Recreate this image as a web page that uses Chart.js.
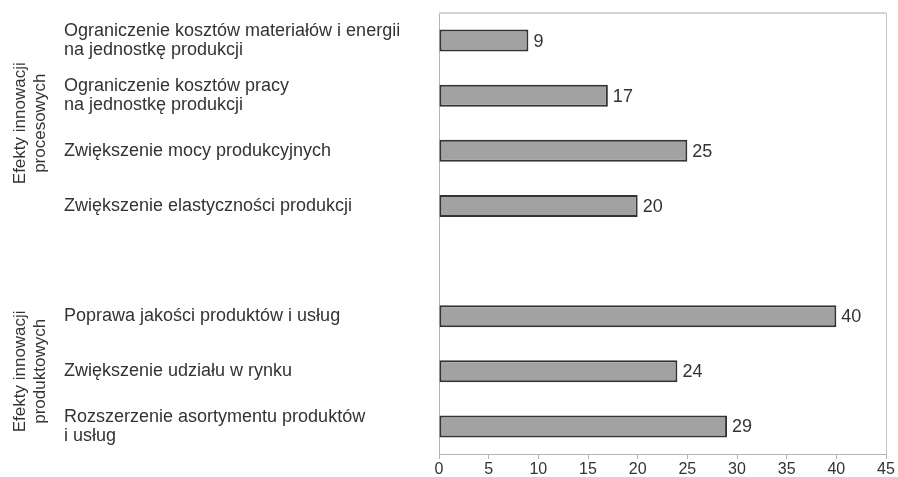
<!DOCTYPE html>
<html>
<head>
<meta charset="utf-8">
<script src="https://cdn.jsdelivr.net/npm/chart.js@4/dist/chart.umd.min.js"></script>
<style>
  body { margin: 0; background: #fff; }
  canvas { display: block; }
</style>
</head>
<body>
<canvas id="myChart" width="898" height="477"></canvas>
<script>
// Chart data
const categories = [
  ['Ograniczenie kosztów materiałów i energii', 'na jednostkę produkcji'],
  ['Ograniczenie kosztów pracy', 'na jednostkę produkcji'],
  'Zwiększenie mocy produkcyjnych',
  'Zwiększenie elastyczności produkcji',
  '',
  'Poprawa jakości produktów i usług',
  'Zwiększenie udziału w rynku',
  ['Rozszerzenie asortymentu produktów', 'i usług']
];
const values = [9, 17, 25, 20, null, 40, 24, 29];
const groupLabels = [['Efekty innowacji', 'procesowych'], ['Efekty innowacji', 'produktowych']];
const groupRanges = [[0, 3], [5, 7]];
const xMin = 0, xMax = 45, xStep = 5;

const FONT = '"Liberation Sans", Arial, sans-serif';

// frame, value labels and rotated group titles
const extras = {
  id: 'extras',
  afterDraw(chart) {
    const c = chart.ctx;
    const a = chart.chartArea;
    c.save();
    c.strokeStyle = '#d4d4d4';
    c.lineWidth = 2;
    c.beginPath();
    c.moveTo(a.left, a.top);
    c.lineTo(a.right, a.top);
    c.stroke();
    c.strokeStyle = '#c4c4c4';
    c.lineWidth = 1;
    c.beginPath();
    c.moveTo(a.right + 0.5, a.top);
    c.lineTo(a.right + 0.5, a.bottom);
    c.stroke();

    // values
    c.font = '18px ' + FONT;
    c.fillStyle = '#333';
    c.textBaseline = 'middle';
    c.textAlign = 'left';
    chart.getDatasetMeta(0).data.forEach((bar, i) => {
      if (values[i] == null) return;
      c.fillText(values[i], bar.x + 5, bar.y + 1);
    });

    // group titles
    const y = chart.scales.y;
    c.font = '17px ' + FONT;
    c.textAlign = 'center';
    groupLabels.forEach((lines, g) => {
      const cy = (y.getPixelForValue(groupRanges[g][0]) + y.getPixelForValue(groupRanges[g][1])) / 2;
      c.save();
      c.translate(20, cy);
      c.rotate(-Math.PI / 2);
      c.fillText(lines[0], 0, 0);
      c.fillText(lines[1], 0, 20);
      c.restore();
    });
    c.restore();
  }
};

const ctx = document.getElementById('myChart').getContext('2d');
const myChart = new Chart(ctx, {
  type: 'bar',
  data: {
    labels: categories,
    datasets: [{
      data: values,
      backgroundColor: '#a2a2a2',
      borderColor: '#333333',
      borderWidth: 2,
      borderSkipped: false,
      barPercentage: 0.4,
      categoryPercentage: 1
    }]
  },
  options: {
    indexAxis: 'y',
    responsive: false,
    animation: false,
    layout: { padding: { left: 64, right: 12, top: 13, bottom: 0 } },
    plugins: {
      legend: { display: false },
      tooltip: { enabled: false }
    },
    scales: {
      x: {
        min: xMin,
        max: xMax,
        afterFit(scale) { scale.height = 23; },
        ticks: {
          stepSize: xStep,
          padding: 1,
          color: '#333',
          font: { family: FONT, size: 16 }
        },
        grid: { drawOnChartArea: false, drawTicks: true, tickLength: 5, color: '#b4b4b4' },
        border: { display: true, color: '#b4b4b4' }
      },
      y: {
        afterFit(scale) {
          scale.width = 375;
          scale.paddingTop = 0;
          scale.paddingBottom = 0;
        },
        ticks: {
          crossAlign: 'far',
          color: '#333',
          font: { family: FONT, size: 18, lineHeight: 1.05 }
        },
        grid: { display: false },
        border: { display: true, color: '#b4b4b4' }
      }
    }
  },
  plugins: [extras]
});
</script>
</body>
</html>
